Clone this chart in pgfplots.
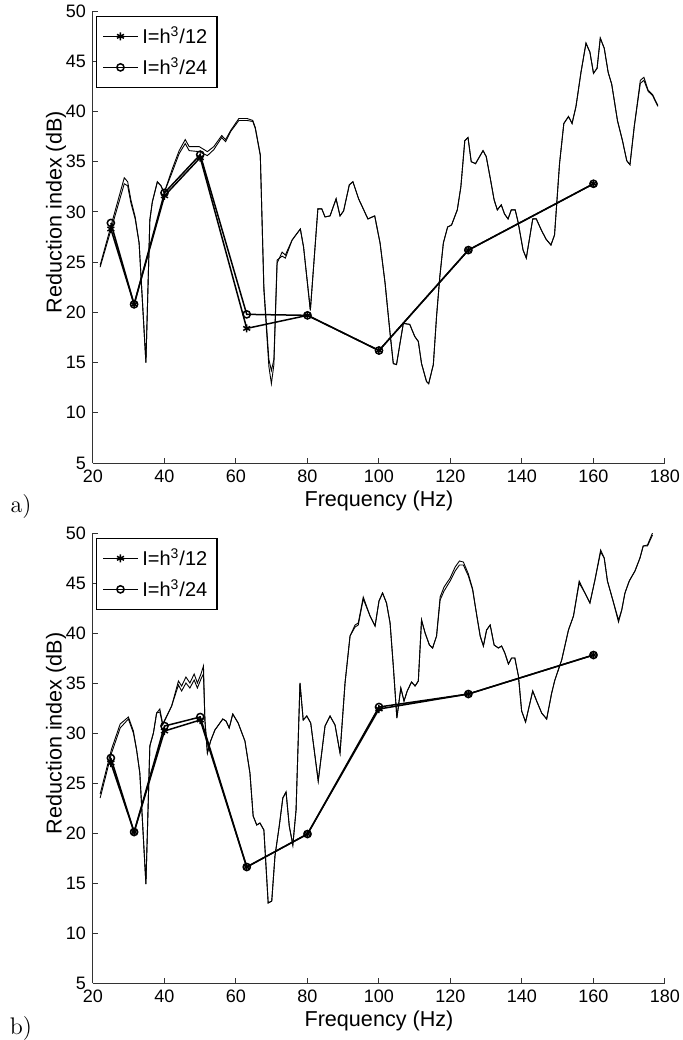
\documentclass[border=0pt]{standalone}
\usepackage{fontspec}
\usepackage{pgfplots}
\pgfplotsset{compat=1.18}
\newfontfamily\helv{Liberation Sans}
\pgfplotsset{mystyle/.style={
  scale only axis, width=286pt,
  xmin=20, xmax=180, ymin=5, ymax=50,
  xtick={20,40,...,180}, ytick={5,10,...,50},
  axis x line*=bottom, axis y line*=left,
  axis line style={black!80, line width=0.5pt, -},
  tick align=inside, major tick length=2.5pt,
  tick style={black!80, line width=0.5pt},
  ticklabel style={font=\helv\fontsize{9}{10}\selectfont},
  /pgf/number format/assume math mode=true,
  label style={font=\helv\fontsize{10.8}{12}\selectfont},
  xlabel={Frequency (Hz)}, ylabel={Reduction index (dB)},
  ylabel style={at={(ticklabel cs:0.555)}, yshift=-7pt},
  xlabel style={yshift=3pt},
  legend style={at={(0.005,0.99)}, anchor=north west, draw=black, line width=0.8pt,
    font=\helv\fontsize{10}{12}\selectfont, inner sep=3pt, row sep=1.5pt},
  legend cell align=left,
  curve/.style={black, line width=0.45pt, forget plot},
  starline/.style={black, line width=0.75pt, mark=asterisk, mark size=2pt},
  circline/.style={black, line width=0.75pt, mark=o, mark size=1.8pt, mark options={solid}},
}}
\begin{document}
\begin{tikzpicture}
\useasboundingbox (-46.5pt,-288.5pt) rectangle (295pt,231.5pt);
% ---------------- a ----------------
\begin{axis}[mystyle, height=226pt, at={(0pt,0pt)}]
\addplot[curve] coordinates {
(22,24.7) (28.75,33.4) (29.7,33.0) (30.6,31.2) (31.8,29.5) (32.9,26.9) (34.8,15.0) (35.9,29.2) (36.6,31.0) (38.0,33.0) (39.0,32.6) (39.9,31.9) (42.2,34.3) (44.1,36.1) (45.8,37.2) (46.9,36.5) (49.7,36.5) (52.0,36.0) (53.8,36.5) (56.0,37.6) (57.1,37.2) (58.5,38.1) (60.8,39.3) (63.1,39.3) (64.7,39.1) (65.4,38.4) (66.8,35.7) (67.8,22.2) (69.2,14.6) (69.9,12.9) (70.6,14.8) (71.5,24.9) (72.9,26.0) (73.8,25.7) (75.7,27.2) (78.0,28.3) (78.9,26.5) (80.8,20.2) (82.9,30.3) (84.0,30.3) (84.9,29.5) (86.3,29.6) (88.0,31.3) (89.1,29.6) (90.1,30.1) (91.7,32.7) (92.7,33.0) (94.3,31.3) (96.9,29.3) (98.8,29.6) (100.3,26.9) (101.7,22.9) (103.1,17.9) (104.0,14.9) (104.9,14.8) (106.8,18.9) (108.6,18.8) (110.0,17.6) (111.0,17.1) (111.9,14.9) (113.3,13.1) (113.9,12.9) (115.2,14.8) (116.1,19.6) (117.0,23.5) (118.0,26.9) (119.2,28.5) (120.3,28.7) (121.9,30.2) (122.9,32.5) (124.0,37.1) (124.9,37.4) (125.8,35.0) (127.0,34.8) (129.1,36.1) (130.0,35.5) (131.2,33.2) (132.2,31.2) (133.1,30.2) (134.2,30.7) (135.1,29.8) (136.1,29.3) (137.0,30.2) (138.1,30.2) (138.9,29.0) (140.3,26.2) (141.2,25.4) (143.0,29.3) (144.0,29.3) (145.4,28.2) (146.7,27.3) (148.1,26.7) (149.1,27.7) (150.5,34.8) (151.7,38.8) (153.0,39.5) (154.0,38.8) (155.1,40.5) (156.5,43.9) (157.9,46.8) (159.0,45.9) (160.0,43.8) (161.0,44.3) (161.9,47.3) (163.0,46.3) (164.1,43.9) (165.1,42.7) (166.7,39.1) (168.1,37.1) (169.3,35.1) (170.2,34.7) (171.4,38.5) (173.1,43.1) (174.1,43.4) (175.3,42.1) (176.5,41.7) (178.0,40.6)
};
\addplot[curve] coordinates {
(22,24.5) (28.75,32.8) (29.7,32.6) (30.6,30.9) (31.8,29.3) (32.9,26.9) (34.8,15.0) (35.9,29.2) (36.6,31.0) (38.0,33.0) (39.0,32.6) (39.9,31.9) (42.2,34.0) (44.1,35.8) (45.8,36.8) (46.9,36.1) (49.7,36.0) (52.0,35.6) (53.8,36.2) (56.0,37.4) (57.1,37.0) (58.5,38.0) (60.8,39.1) (63.1,39.1) (64.7,39.0) (65.4,38.3) (66.8,35.6) (67.8,22.5) (69.2,15.3) (69.9,14.2) (70.6,15.3) (71.5,25.2) (72.9,25.6) (73.8,25.4) (75.7,27.2) (78.0,28.3) (78.9,26.5) (80.8,20.2) (82.9,30.3) (84.0,30.3) (84.9,29.5) (86.3,29.6) (88.0,31.3) (89.1,29.6) (90.1,30.1) (91.7,32.7) (92.7,33.0) (94.3,31.3) (96.9,29.3) (98.8,29.6) (100.3,26.9) (101.7,22.9) (103.1,17.9) (104.0,14.9) (104.9,14.8) (106.8,18.9) (108.6,18.8) (110.0,17.6) (111.0,17.1) (111.9,14.9) (113.3,13.1) (113.9,12.9) (115.2,14.8) (116.1,19.6) (117.0,23.5) (118.0,26.9) (119.2,28.5) (120.3,28.7) (121.9,30.2) (122.9,32.5) (124.0,37.1) (124.9,37.4) (125.8,35.0) (127.0,34.8) (129.1,36.1) (130.0,35.5) (131.2,33.2) (132.2,31.2) (133.1,30.2) (134.2,30.7) (135.1,29.8) (136.1,29.3) (137.0,30.2) (138.1,30.2) (138.9,29.0) (140.3,26.2) (141.2,25.4) (143.0,29.3) (144.0,29.3) (145.4,28.2) (146.7,27.3) (148.1,26.7) (149.1,27.7) (150.5,34.8) (151.7,38.8) (153.0,39.5) (154.0,38.8) (155.1,40.5) (156.5,43.9) (157.9,46.8) (159.0,45.9) (160.0,43.8) (161.0,44.3) (161.9,47.3) (163.0,46.3) (164.1,43.9) (165.1,42.7) (166.7,39.1) (168.1,37.1) (169.3,35.1) (170.2,34.7) (171.4,38.5) (173.1,42.8) (174.1,43.1) (175.3,42.0) (176.5,41.6) (178.0,40.5)
};
\addplot[starline] coordinates {(25,28.3) (31.5,20.8) (40,31.6) (50,35.4) (63,18.4) (80,19.7) (100,16.2) (125,26.2) (160,32.8)};
\addlegendentry{I=h\textsuperscript{3}/12}
\addplot[circline] coordinates {(25,28.9) (31.5,20.8) (40,31.9) (50,35.7) (63,19.8) (80,19.7) (100,16.2) (125,26.2) (160,32.8)};
\addlegendentry{I=h\textsuperscript{3}/24}
\end{axis}
% ---------------- b ----------------
\begin{axis}[mystyle, height=225pt, at={(0pt,-260pt)}]
\addplot[curve] coordinates {
(22.0,23.5) (25.2,28.0) (27.6,30.5) (29.9,31.4) (31.3,30.0) (32.2,28.3) (33.1,26.0) (34.8,14.9) (35.9,28.7) (36.9,30.0) (37.8,32.0) (38.7,32.1) (39.5,30.8) (42.0,32.7) (43.9,35.2) (44.8,34.7) (46.0,35.6) (47.1,35.0) (48.3,35.9) (49.2,35.0) (50.2,35.9) (50.9,36.7) (51.3,31.3) (52.0,28.0) (52.9,29.2) (54.1,30.3) (56.3,31.4) (57.2,31.2) (58.1,30.5) (59.1,31.9) (60.6,31.0) (62.5,29.2) (63.9,26.0) (64.8,21.7) (65.8,20.8) (66.7,21.0) (67.8,20.3) (69.0,13.0) (70.0,13.2) (70.9,17.7) (72.1,20.7) (73.1,23.5) (74.0,24.1) (74.9,20.7) (75.9,18.8) (76.8,22.3) (77.9,35.0) (78.8,31.3) (79.8,31.7) (80.9,31.0) (83.0,25.2) (84.9,30.7) (86.3,31.7) (87.7,30.8) (89.1,28.0) (90.5,35.0) (91.9,39.7) (93.3,40.8) (94.2,41.0) (95.6,43.6) (97.5,41.7) (98.9,40.7) (100.0,43.2) (101.0,44.0) (102.1,43.0) (103.1,41.0) (104.0,36.7) (105.0,31.5) (106.1,34.5) (107.0,33.2) (107.9,34.2) (109.1,35.1) (110.1,34.7) (111.0,35.2) (111.9,41.3) (112.9,40.0) (114.1,38.8) (115.0,38.5) (116.1,39.7) (117.1,43.3) (118.2,44.2) (119.9,45.2) (121.3,46.2) (122.5,46.8) (123.6,46.8) (125.0,45.7) (126.2,44.3) (127.1,42.3) (128.3,39.7) (129.2,38.7) (130.1,40.3) (131.1,40.8) (132.2,38.8) (133.4,38.5) (134.3,38.7) (135.2,38.0) (136.2,36.9) (137.1,37.5) (138.0,37.5) (139.0,35.7) (139.9,32.2) (141.0,31.1) (143.0,34.2) (144.1,33.2) (145.5,32.0) (146.9,31.4) (148.3,34.0) (149.2,35.3) (151.1,37.3) (153.0,40.3) (154.4,41.7) (156.0,45.0) (157.6,44.0) (159.0,43.0) (160.4,45.3) (162.0,48.1) (163.0,47.5) (163.9,45.2) (165.4,43.3) (167.0,41.1) (167.9,42.3) (168.8,44.0) (170.0,45.2) (171.6,46.2) (173.0,47.5) (173.9,48.7) (175.1,48.8) (176.5,50.0)
};
\addplot[curve] coordinates {
(22.0,23.9) (25.2,28.4) (27.6,30.9) (29.9,31.6) (31.3,30.2) (32.2,28.3) (33.1,26.0) (34.8,14.9) (35.9,28.7) (36.9,30.0) (37.8,32.0) (38.7,32.4) (39.5,30.9) (42.0,32.7) (43.9,34.8) (44.8,34.2) (46.0,35.0) (47.1,34.5) (48.3,35.3) (49.2,34.5) (50.2,35.4) (50.9,35.9) (51.3,31.3) (52.0,28.0) (52.9,29.2) (54.1,30.3) (56.3,31.4) (57.2,31.2) (58.1,30.5) (59.1,31.9) (60.6,31.0) (62.5,29.2) (63.9,26.0) (64.8,21.7) (65.8,20.8) (66.7,21.0) (67.8,20.3) (69.0,13.0) (70.0,13.2) (70.9,17.7) (72.1,20.7) (73.1,23.5) (74.0,24.1) (74.9,20.7) (75.9,18.8) (76.8,22.3) (77.9,35.0) (78.8,31.3) (79.8,31.7) (80.9,31.0) (83.0,25.2) (84.9,30.7) (86.3,31.7) (87.7,30.8) (89.1,28.0) (90.5,35.0) (91.9,39.7) (93.3,40.6) (94.2,40.8) (95.6,43.4) (97.5,41.7) (98.9,40.7) (100.0,43.2) (101.0,44.0) (102.1,43.0) (103.1,41.0) (104.0,36.7) (105.0,31.5) (106.1,34.5) (107.0,33.2) (107.9,34.2) (109.1,35.1) (110.1,34.7) (111.0,35.2) (111.9,41.3) (112.9,40.0) (114.1,38.8) (115.0,38.5) (116.1,39.7) (117.1,43.6) (118.2,44.6) (119.9,45.5) (121.3,46.6) (122.5,47.2) (123.6,47.1) (125.0,45.9) (126.2,44.4) (127.1,42.3) (128.3,39.7) (129.2,38.7) (130.1,40.3) (131.1,40.8) (132.2,38.8) (133.4,38.5) (134.3,38.7) (135.2,38.0) (136.2,36.9) (137.1,37.5) (138.0,37.5) (139.0,35.7) (139.9,32.2) (141.0,31.1) (143.0,34.2) (144.1,33.2) (145.5,32.0) (146.9,31.4) (148.3,34.0) (149.2,35.3) (151.1,37.3) (153.0,40.3) (154.4,41.7) (156.0,45.2) (157.6,44.0) (159.0,43.0) (160.4,45.3) (162.0,48.3) (163.0,47.5) (163.9,45.2) (165.4,43.3) (167.0,41.3) (167.9,42.3) (168.8,44.0) (170.0,45.2) (171.6,46.2) (173.0,47.5) (173.9,48.7) (175.1,48.7) (176.5,49.8)
};
\addplot[starline] coordinates {(25,27.0) (31.5,20.1) (40,30.2) (50,31.3) (63,16.6) (80,19.9) (100,32.4) (125,33.9) (160,37.8)};
\addlegendentry{I=h\textsuperscript{3}/12}
\addplot[circline] coordinates {(25,27.5) (31.5,20.1) (40,30.7) (50,31.6) (63,16.6) (80,19.9) (100,32.6) (125,33.9) (160,37.8)};
\addlegendentry{I=h\textsuperscript{3}/24}
\end{axis}
\node[font=\fontsize{12}{14}\selectfont] at (-36pt,-22pt) {a)};
\node[font=\fontsize{12}{14}\selectfont] at (-36pt,-283pt) {b)};
\end{tikzpicture}
\end{document}
